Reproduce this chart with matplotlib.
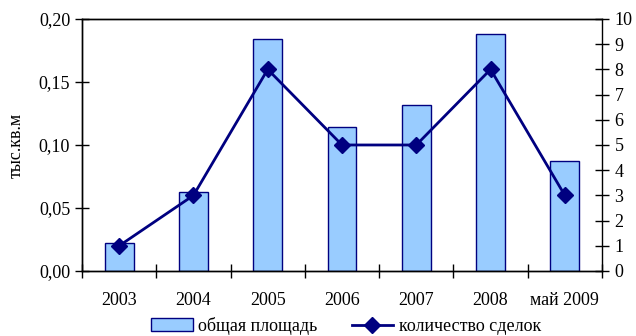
import matplotlib
matplotlib.use("Agg")
import matplotlib.pyplot as plt
import numpy as np

categories = ["2003", "2004", "2005", "2006", "2007", "2008", "май 2009"]
area = [0.022, 0.063, 0.184, 0.114, 0.132, 0.188, 0.087]   # тыс. кв. м
deals = [1, 3, 8, 5, 5, 8, 3]

plt.rcParams["font.family"] = ["Liberation Serif", "DejaVu Serif"]
plt.rcParams["font.size"] = 13

fig = plt.figure(figsize=(6.36, 3.36), dpi=100)
ax = fig.add_axes([0.129, 0.1935, 0.8175, 0.75])
x = np.arange(len(categories))

bars = ax.bar(x, area, width=0.39, color="#99CCFF", edgecolor="#000080",
              linewidth=1.0, label="общая площадь", zorder=2)
ax.set_xlim(-0.5, len(categories) - 0.5)
ax.set_ylim(0, 0.20)
ax.set_yticks(np.arange(0, 0.201, 0.05))
ax.set_yticklabels([f"{v:.2f}".replace(".", ",") for v in np.arange(0, 0.201, 0.05)])
ax.set_xticks(x)
ax.set_xticklabels(categories)
ax.set_xticks(np.arange(-0.5, len(categories)), minor=True)
ax.tick_params(axis="x", which="major", length=0, pad=15)
ax.tick_params(axis="x", which="minor", direction="inout", length=10, width=1)
ax.tick_params(axis="y", direction="inout", length=10, width=1)
ax.set_ylabel("тыс.кв.м", labelpad=10)
for s in ax.spines.values():
    s.set_linewidth(1.0)
ax.spines["right"].set_visible(False)

ax2 = ax.twinx()
line, = ax2.plot(x, deals, color="#000080", linewidth=2.0, marker="D",
                 markersize=8.5, label="количество сделок", zorder=3)
ax2.set_ylim(0, 10)
ax2.set_yticks(range(0, 11))
ax2.tick_params(axis="y", direction="inout", length=10, width=1, pad=4)
for s in ax2.spines.values():
    s.set_linewidth(1.0)

fig.legend(handles=[bars, line], loc="lower center", ncol=2, frameon=False,
           bbox_to_anchor=(0.544, -0.045), handlelength=2.3, handletextpad=0.3,
           columnspacing=1.9)

fig.savefig("out.png", dpi=100)
